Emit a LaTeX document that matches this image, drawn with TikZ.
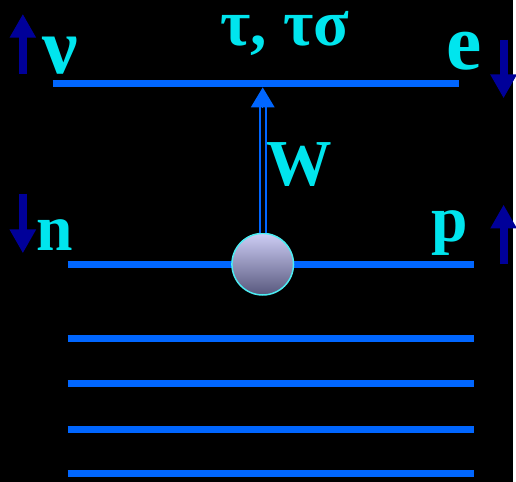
\documentclass[tikz,border=0pt]{standalone}
\usepackage{fontspec}
\setmainfont{Liberation Serif}
\usetikzlibrary{arrows.meta,positioning}
\definecolor{levelblue}{RGB}{0,102,255}
\definecolor{labelcyan}{RGB}{0,229,238}
\definecolor{spinblue}{RGB}{0,0,153}
\definecolor{balltop}{RGB}{205,205,245}
\definecolor{ballbot}{RGB}{88,88,125}

\begin{document}
\begin{tikzpicture}[x=1pt,y=-1pt,
  level/.style={draw=levelblue,line width=7pt},
  spin/.style={draw=spinblue,line width=8pt,-{Triangle[length=24pt,width=25pt]}},
  lbl/.style={text=labelcyan,inner sep=0pt,anchor=base,font=\bfseries\fontsize{66}{66}\selectfont},
  biglbl/.style={lbl,font=\bfseries\fontsize{80}{80}\selectfont}]
  \fill[black] (0,0) rectangle (516,485);
  % levels
  \coordinate (tl) at (53,84.5);  \coordinate (tr) at (462,84.5);
  \draw[level] (tl) -- (tr);
  \foreach \y [count=\i] in {266,341,386,432,477} {
    \coordinate (l\i) at (68,\y);
    \coordinate (r\i) at (477,\y);
    \draw[level] (l\i) -- (r\i);
  }
  % W exchange
  \node[circle,minimum size=62pt,inner sep=0pt,draw=labelcyan!70!white,line width=1.5pt,
        top color=balltop,bottom color=ballbot] (ball) at (264.5,266) {};
  \coordinate (wtip) at (264.5,88);
  \coordinate (wbase) at (264.5,106);
  \draw[levelblue,line width=2pt,double=black,double distance=4pt] (ball.north) -- (wbase);
  \draw[levelblue,line width=0pt,-{Triangle[length=20pt,width=24pt]}] (wbase) -- (wtip);
  % labels
  \node[biglbl] (nu) at (61,74) {ν};
  \node[biglbl] (e) at (467,70) {e};
  \node[lbl] (n) at (55,252) {n};
  \node[lbl] (p) at (453,243) {p};
  \node[lbl] (w) at (301,187) {W};
  \node[lbl,text height=32pt,text depth=8pt] (tau) at (287,46) {τ, τσ};
  % spins
  \coordinate (s1a) at (23,74);  \coordinate (s1b) at (23,14);
  \coordinate (s2a) at (507,40); \coordinate (s2b) at (507,99);
  \coordinate (s3a) at (23,195); \coordinate (s3b) at (23,255);
  \coordinate (s4a) at (507,266); \coordinate (s4b) at (507,206);
  \draw[spin] (s1a) -- (s1b);
  \draw[spin] (s2a) -- (s2b);
  \draw[spin] (s3a) -- (s3b);
  \draw[spin] (s4a) -- (s4b);
\end{tikzpicture}
\end{document}
